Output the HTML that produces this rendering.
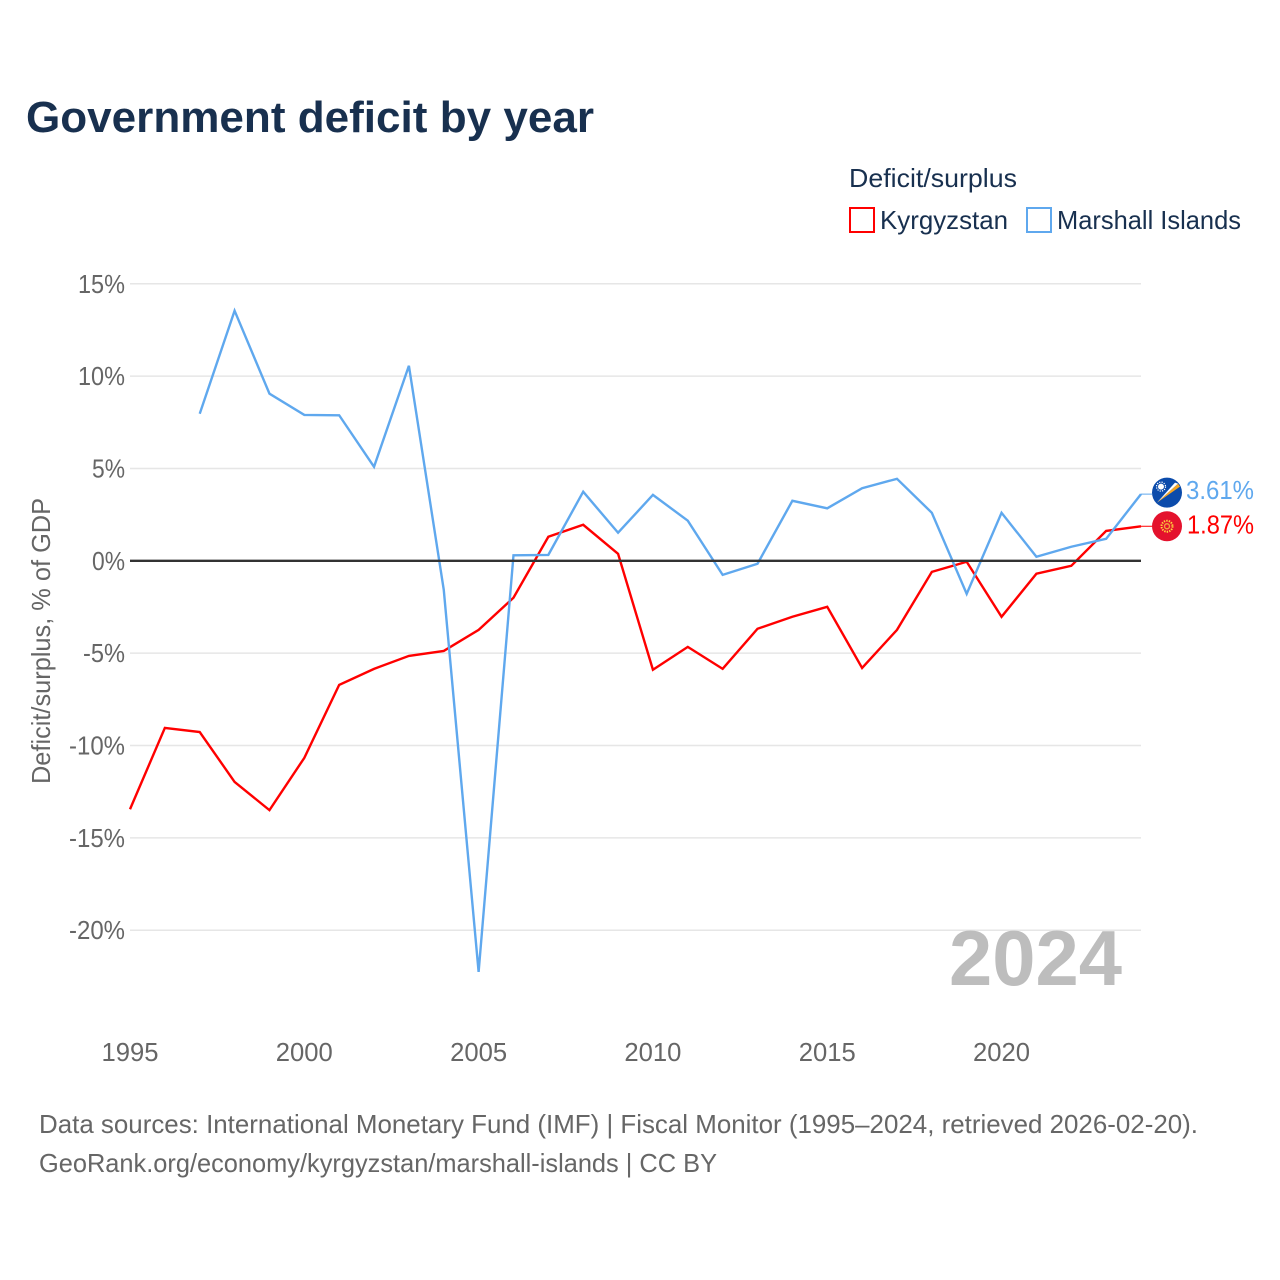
<!DOCTYPE html>
<html lang="en">
<head>
<meta charset="utf-8">
<title>Government deficit by year</title>
<style>
html,body{margin:0;padding:0;background:#fff;}
svg{display:block;font-family:"Liberation Sans",sans-serif;}
</style>
</head>
<body>
<svg id="chart" xmlns="http://www.w3.org/2000/svg" width="1280" height="1280" viewBox="0 0 1280 1280">
  <rect x="0" y="0" width="1280" height="1280" fill="#ffffff"/>
  <text x="26" y="132" font-size="44" font-weight="700" fill="#18304f" textLength="568" lengthAdjust="spacingAndGlyphs">Government deficit by year</text>

  <text x="849" y="187" font-size="26" fill="#18304f" textLength="168" lengthAdjust="spacingAndGlyphs">Deficit/surplus</text>
  <rect x="850" y="208" width="24" height="24" fill="#ffffff" stroke="#ff0000" stroke-width="2"/>
  <text x="880" y="229" font-size="26" fill="#18304f" textLength="128" lengthAdjust="spacingAndGlyphs">Kyrgyzstan</text>
  <rect x="1027" y="208" width="24" height="24" fill="#ffffff" stroke="#5fa8ee" stroke-width="2"/>
  <text x="1057" y="229" font-size="26" fill="#18304f" textLength="184" lengthAdjust="spacingAndGlyphs">Marshall Islands</text>

  <g id="grid"></g>
  <g id="yticks"></g>
  <g id="xticks"></g>
  <text transform="translate(50,641) rotate(-90)" text-anchor="middle" font-size="26" fill="#666666" textLength="286" lengthAdjust="spacingAndGlyphs">Deficit/surplus, % of GDP</text>

  <text x="949" y="985" font-size="78" font-weight="700" fill="#bdbdbd" textLength="173" lengthAdjust="spacingAndGlyphs">2024</text>

  <g id="series"></g>

  <g id="end-labels"></g>

  <text x="39" y="1133" font-size="26" fill="#666666" textLength="1159" lengthAdjust="spacingAndGlyphs">Data sources: International Monetary Fund (IMF) | Fiscal Monitor (1995–2024, retrieved 2026-02-20).</text>
  <text x="39" y="1172" font-size="26" fill="#666666" textLength="678" lengthAdjust="spacingAndGlyphs">GeoRank.org/economy/kyrgyzstan/marshall-islands | CC BY</text>
</svg>
<script>
const years = [1995,1996,1997,1998,1999,2000,2001,2002,2003,2004,2005,2006,2007,2008,2009,2010,2011,2012,2013,2014,2015,2016,2017,2018,2019,2020,2021,2022,2023,2024];
const kyrgyzstan = [-13.45,-9.05,-9.27,-11.97,-13.5,-10.67,-6.72,-5.85,-5.15,-4.88,-3.74,-2.0,1.3,1.95,0.38,-5.9,-4.66,-5.85,-3.68,-3.03,-2.49,-5.8,-3.74,-0.6,-0.05,-3.03,-0.7,-0.27,1.62,1.87];
const marshallIslands = [null,null,7.96,13.54,9.05,7.9,7.88,5.09,10.56,-1.57,-22.26,0.3,0.32,3.74,1.52,3.57,2.17,-0.76,-0.16,3.25,2.84,3.93,4.44,2.6,-1.79,2.6,0.22,0.76,1.19,3.61];
const yTickValues = [15,10,5,0,-5,-10,-15,-20];
const xTickValues = [1995,2000,2005,2010,2015,2020];
const NS = 'http://www.w3.org/2000/svg';

function xScale(year){ return 130 + (year - 1995) * (1141 - 130) / (2024 - 1995); }
function yScale(v){ return 560.8 - v * 18.47; }
function make(tag, attrs, parent, text){
  const el = document.createElementNS(NS, tag);
  for (const k in attrs) el.setAttribute(k, attrs[k]);
  if (text !== undefined) el.textContent = text;
  parent.appendChild(el);
  return el;
}
function tickWidth(v){
  const digits = String(Math.abs(v)).length;
  return digits * 14 + 19 + (v < 0 ? 9 : 0);
}

const grid = document.getElementById('grid');
const yticks = document.getElementById('yticks');
yTickValues.forEach(function(v){
  const y = yScale(v);
  if (v !== 0) {
    const line = make('line', {x1:130, x2:1141, y1:y, y2:y, stroke:'#e6e6e6', 'stroke-width':1.5}, grid);
    
    
  }
  const label = make('text', {x:125, y:y + 9, 'text-anchor':'end', 'font-size':26, fill:'#666666', textLength:tickWidth(v), lengthAdjust:'spacingAndGlyphs'}, yticks, v + '%');
  
  
});

const xticks = document.getElementById('xticks');
xTickValues.forEach(function(yr){
  const label = make('text', {x:xScale(yr), y:1061, 'text-anchor':'middle', 'font-size':26, fill:'#666666', textLength:57, lengthAdjust:'spacingAndGlyphs'}, xticks, String(yr));
  
  
});

const seriesGroup = document.getElementById('series');
function linePoints(values){
  const pts = [];
  values.forEach(function(v, i){
    if (v !== null) pts.push(xScale(years[i]).toFixed(2) + ',' + yScale(v).toFixed(2));
  });
  return pts.join(' ');
}
const kyrgyzLine = make('polyline', {points:linePoints(kyrgyzstan), fill:'none', stroke:'#ff0000', 'stroke-width':2.4, 'stroke-linejoin':'miter'}, seriesGroup);


const marshallLine = make('polyline', {points:linePoints(marshallIslands), fill:'none', stroke:'#5fa8ee', 'stroke-width':2.4, 'stroke-linejoin':'miter'}, seriesGroup);


const zeroLine = make('line', {x1:130, x2:1141, y1:yScale(0), y2:yScale(0), stroke:'#333333', 'stroke-width':2.4}, seriesGroup);



const endGroup = document.getElementById('end-labels');
const lastIndex = years.length - 1;
const xEnd = xScale(years[lastIndex]);

const mY = yScale(marshallIslands[lastIndex]);
const mConn = make('line', {x1:xEnd, x2:1152, y1:mY, y2:mY, stroke:'#5fa8ee', 'stroke-width':1}, endGroup);


const mFlagY = mY - 1.5;
const mFlag = make('g', {transform:'translate(1167,' + mFlagY + ')'}, endGroup);


make('circle', {r:15, fill:'#0b4bab'}, mFlag);
make('polygon', {points:'-10,10 11,-9 13,-6', fill:'#f5a623'}, mFlag);
make('polygon', {points:'-10,10 8,-10 11,-9', fill:'#ffffff'}, mFlag);
make('circle', {cx:-6, cy:-6, r:3, fill:'#ffffff'}, mFlag);
make('circle', {cx:-6, cy:-6, r:4.5, fill:'none', stroke:'#ffffff', 'stroke-width':1.2, 'stroke-dasharray':'1.2 1.2'}, mFlag);
const mLabel = make('text', {x:1186, y:mY + 5, 'font-size':26, fill:'#5fa8ee', textLength:68, lengthAdjust:'spacingAndGlyphs'}, endGroup, marshallIslands[lastIndex].toFixed(2) + '%');



const kY = yScale(kyrgyzstan[lastIndex]);
const kConn = make('line', {x1:xEnd, x2:1152, y1:kY, y2:kY, stroke:'#ff0000', 'stroke-width':1}, endGroup);


const kFlag = make('g', {transform:'translate(1167,' + kY + ')'}, endGroup);


make('circle', {r:15, fill:'#e4122d'}, kFlag);
make('circle', {r:5.5, fill:'none', stroke:'#ffd83d', 'stroke-width':2, 'stroke-dasharray':'1.4 1.1'}, kFlag);
make('circle', {r:3.2, fill:'#f2a33a'}, kFlag);
make('circle', {r:1.8, fill:'#e4122d'}, kFlag);
const kLabel = make('text', {x:1187, y:kY + 7, 'font-size':26, fill:'#ff0000', textLength:67, lengthAdjust:'spacingAndGlyphs'}, endGroup, kyrgyzstan[lastIndex].toFixed(2) + '%');


</script>
</body>
</html>
